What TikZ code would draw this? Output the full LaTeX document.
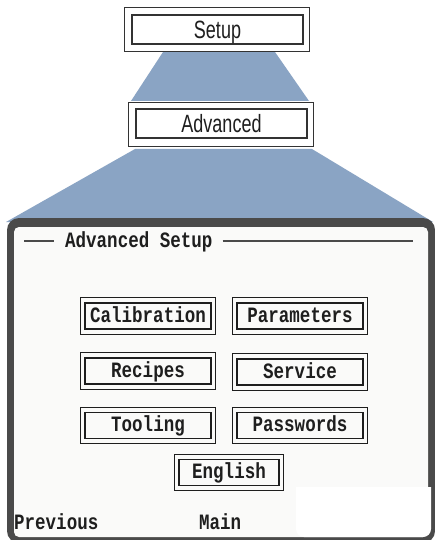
\documentclass[tikz,border=0pt]{standalone}
\usepackage{fontspec}
\newfontfamily\dosfont[FakeStretch=0.8]{Liberation Mono}
\newfontfamily\labfont[FakeStretch=0.72]{Liberation Sans}
\definecolor{trapblue}{HTML}{8AA4C4}
\definecolor{framegray}{HTML}{4A4A4A}
\definecolor{screenbg}{HTML}{FAFAF9}
\definecolor{ink}{HTML}{1E1E1E}
\definecolor{boxline}{HTML}{333333}
\tikzset{
  menubox/.style={draw=boxline, line width=1.4pt, fill=white, inner sep=0pt, text=ink,
    font=\labfont\fontsize{25}{28}\selectfont, text height=19pt, text depth=1pt},
  btn/.style={draw=ink, line width=1.7pt, inner sep=0pt, text=ink,
    font=\dosfont\bfseries\fontsize{21.9}{24}\selectfont, minimum height=26pt,
    text height=14pt, text depth=1.5pt},
  dostext/.style={text=ink, inner sep=0pt, font=\dosfont\bfseries\fontsize{21.9}{24}\selectfont},
  outerline/.style={draw=ink, line width=0.9pt},
  titleline/.style={draw=framegray, line width=1.4pt}
}
\begin{document}
\begin{tikzpicture}[x=1pt,y=-1pt]
\useasboundingbox (0,0) rectangle (435,540);
\fill[white] (0,0) rectangle (435,540);
% trapezoids
\fill[trapblue] (163,52) -- (275,52) -- (309,101) -- (131,101) -- cycle;
\fill[trapblue] (135,149) -- (312,149) -- (433,222) -- (6,222) -- cycle;
% menu boxes
\node[menubox, minimum width=171pt, minimum height=29pt] (setup) at (217.5,29.5) {Setup};
\draw[boxline, line width=1.2pt, fill=none] ([xshift=-7pt,yshift=7pt]setup.north west) rectangle ([xshift=6pt,yshift=-7pt]setup.south east);
\node[menubox, minimum width=171pt, minimum height=29pt] (adv) at (221.5,123.5) {Advanced};
\draw[boxline, line width=1.2pt] ([xshift=-7pt,yshift=6pt]adv.north west) rectangle ([xshift=6pt,yshift=-8pt]adv.south east);
% screen frame
\fill[framegray, rounded corners=12pt] (7,218) rectangle (435,543);
\fill[screenbg, rounded corners=5pt] (14,227) rectangle (428,537);
% title
\node[dostext, anchor=west] (title) at (65,242) {Advanced Setup};
\coordinate (tl1) at (24,241);
\coordinate (tr2) at (413,241);
\draw[titleline] (tl1) -- ([xshift=-11pt]title.west |- tl1);
\draw[titleline] ([xshift=10pt]title.east |- tr2) -- (tr2);
% buttons
\node[btn, minimum width=126pt] (cal) at (148,316) {Calibration};
\node[btn, minimum width=126pt] (par) at (300,316) {Parameters};
\node[btn, minimum width=126pt] (rec) at (148,371) {Recipes};
\node[btn, minimum width=126pt] (ser) at (300,372) {Service};
\node[btn, minimum width=126pt] (too) at (148,425.5) {Tooling};
\node[btn, minimum width=126pt] (pas) at (300,425.5) {Passwords};
\node[btn, minimum width=100pt] (eng) at (229,472.5) {English};
\foreach \b in {cal,par,rec,ser,too,pas,eng}{
  \draw[outerline] ([xshift=-4pt,yshift=4.5pt]\b.north west) rectangle ([xshift=4pt,yshift=-4.5pt]\b.south east);
}
% footer
\node[dostext, anchor=west] (prev) at (14,522) {Previous};
\node[dostext, anchor=west] (main) at (199,522) {Main};
% white cover box
\fill[white, rounded corners=0pt] (296,487) -- (431,487) [rounded corners=8pt] -- (431,537) -- (296,537) [rounded corners=0pt] -- cycle;
\end{tikzpicture}
\end{document}
